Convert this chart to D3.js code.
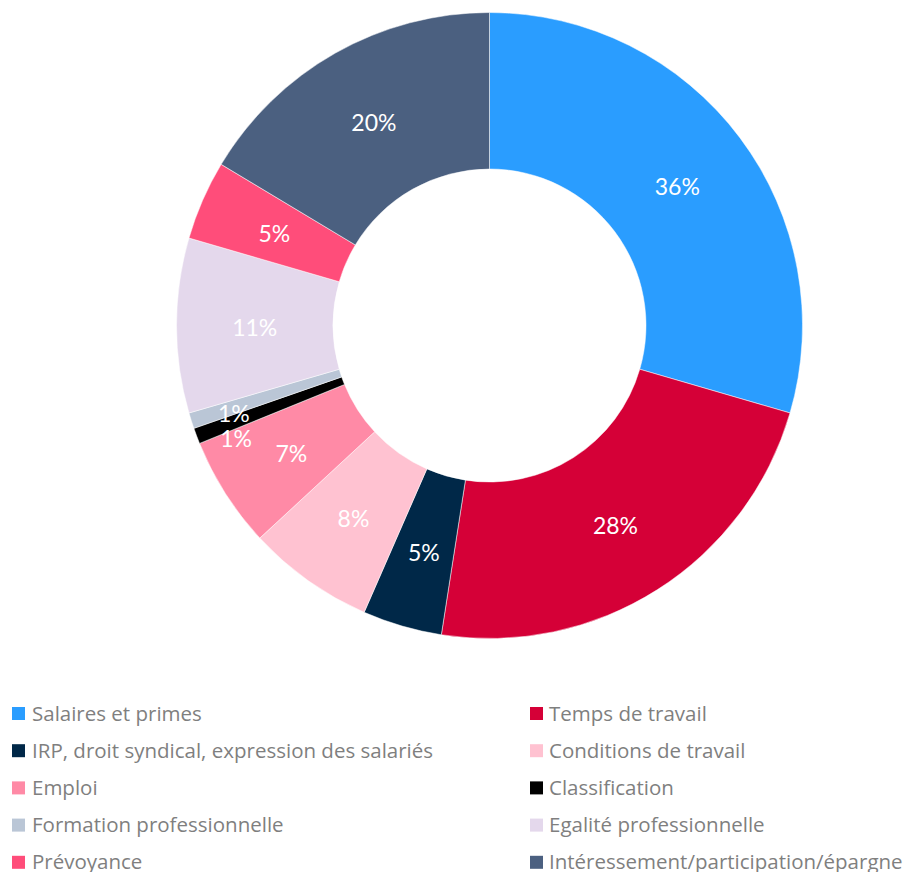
<!DOCTYPE html>
<html>
<head>
<meta charset="utf-8">
<script src="https://cdn.jsdelivr.net/npm/d3@7"></script>
<style>
  body { margin: 0; background: #fff; }
  svg text { font-family: "Open Sans", Lato, sans-serif; }
  svg text.lbl { font-family: Lato, "Open Sans", sans-serif; }
</style>
</head>
<body>
<div id="chart"></div>
<script>
// themes and their shares (labels as printed on the slices)
const categories = [
    "Salaires et primes", "Temps de travail",
    "IRP, droit syndical, expression des salariés", "Conditions de travail",
    "Emploi", "Classification",
    "Formation professionnelle", "Egalité professionnelle",
    "Prévoyance", "Intéressement/participation/épargne"
];
const values = [36, 28, 5, 8, 7, 1, 1, 11, 5, 20];
const colors = ["#2a9dff", "#d50037", "#002848", "#ffc2d1", "#ff8aa6",
                "#000000", "#bac6d6", "#e4d8ec", "#ff4d7a", "#4b6080"];

const width = 908, height = 872;
const cx = 489.5, cy = 325.5, outerR = 313, innerR = 156.5;

const svg = d3.select("#chart")
    .append("svg")
    .attr("width", width)
    .attr("height", height);

const data = categories.map((c, i) => ({ name: c, value: values[i], color: colors[i] }));

// keep the given order, clockwise from 12 o'clock
const pie = d3.pie().value(d => d.value).sort(null);
const arc = d3.arc().innerRadius(innerR).outerRadius(outerR);

const g = svg.append("g").attr("transform", `translate(${cx},${cy})`);
const arcs = pie(data);

g.selectAll("path.slice")
    .data(arcs)
    .enter().append("path")
    .attr("class", "slice")
    .attr("d", arc)
    .attr("fill", d => d.data.color)
    .attr("stroke", "#fff")
    .attr("stroke-width", 0.5);

// the two 1% labels are pushed out and apart like in the original
const smallShift = { "Classification": [-0.055, 277], "Formation professionnelle": [-0.018, 270] };

g.selectAll("text.lbl")
    .data(arcs)
    .enter().append("text")
    .attr("class", "lbl")
    .attr("transform", d => {
        let p = arc.centroid(d);
        const s = smallShift[d.data.name];
        if (s) {
            const a = (d.startAngle + d.endAngle) / 2 + s[0];
            p = [Math.sin(a) * s[1], -Math.cos(a) * s[1]];
        }
        return `translate(${p[0]},${p[1] + 2})`;
    })
    .attr("text-anchor", "middle")
    .attr("dy", "0.35em")
    .attr("fill", "#fff")
    .attr("font-size", 23)
    .text(d => d.value + "%");

// legend: two columns
const legend = svg.append("g");
const items = legend.selectAll("g")
    .data(data)
    .enter().append("g")
    .attr("transform", (d, i) => `translate(${i % 2 === 0 ? 12 : 530},${713.5 + Math.floor(i / 2) * 37.2})`);

items.append("rect")
    .attr("x", 0).attr("y", -6.5)
    .attr("width", 13).attr("height", 13)
    .attr("fill", d => d.color);

items.append("text")
    .attr("x", (d, i) => i % 2 === 0 ? 20 : 19)
    .attr("dy", "0.35em")
    .attr("fill", "#7f7f7f")
    .attr("font-size", 20.5)
    .text(d => d.name);
</script>
</body>
</html>
